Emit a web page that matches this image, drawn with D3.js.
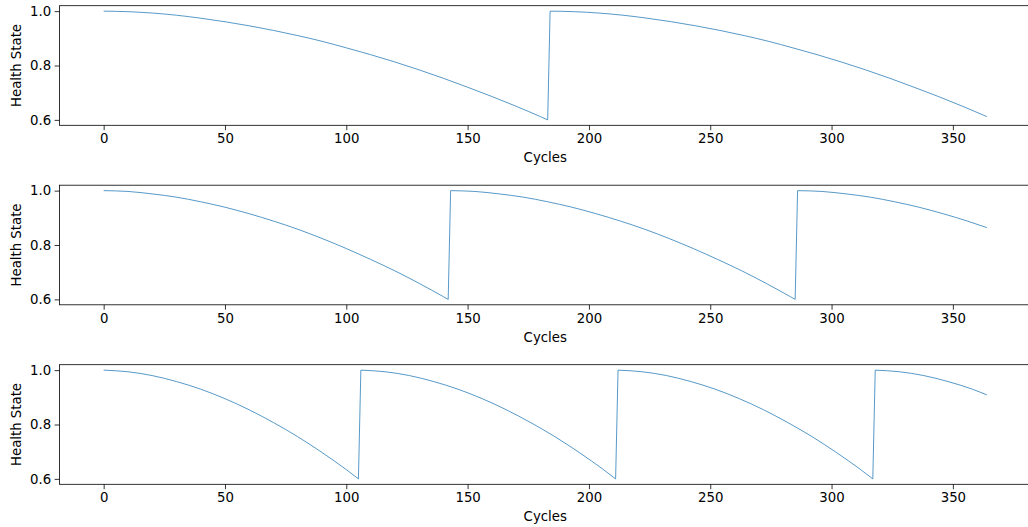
<!DOCTYPE html>
<html>
<head>
<meta charset="utf-8">
<script src="https://cdnjs.cloudflare.com/ajax/libs/d3/7.8.5/d3.min.js"></script>
<style>
  body { margin: 0; background: #fff; }
  svg { display: block; font-family: "DejaVu Sans", sans-serif; }
</style>
</head>
<body>
<script>
// health state, one pair of arrays per panel
var cycles1 = [0,10,20,30,40,50,60,70,80,90,100,110,120,130,140,150,160,170,180,183,
               184,194,204,214,224,234,244,254,264,274,284,294,304,314,324,334,344,354,364];
var health1 = [1.000,0.998,0.993,0.985,0.974,0.961,0.946,0.929,0.910,0.889,0.865,0.840,0.813,0.784,0.753,0.720,0.686,0.650,0.612,0.600,
               1.000,0.998,0.993,0.985,0.974,0.961,0.946,0.929,0.910,0.889,0.865,0.840,0.813,0.784,0.753,0.720,0.686,0.650,0.612];

var cycles2 = [0,10,20,30,40,50,60,70,80,90,100,110,120,130,140,142,
               143,153,163,173,183,193,203,213,223,233,243,253,263,273,283,285,
               286,296,306,316,326,336,346,356,364];
var health2 = [1.000,0.997,0.988,0.976,0.959,0.939,0.915,0.888,0.858,0.824,0.787,0.747,0.705,0.659,0.610,0.600,
               1.000,0.997,0.988,0.976,0.959,0.939,0.915,0.888,0.858,0.824,0.787,0.747,0.705,0.659,0.610,0.600,
               1.000,0.997,0.988,0.976,0.959,0.939,0.915,0.888,0.864];

var cycles3 = [0,10,20,30,40,50,60,70,80,90,100,105,
               106,116,126,136,146,156,166,176,186,196,206,211,
               212,222,232,242,252,262,272,282,292,302,312,317,
               318,328,338,348,358,364];
var health3 = [1.000,0.994,0.980,0.958,0.930,0.895,0.854,0.807,0.755,0.697,0.634,0.600,
               1.000,0.994,0.980,0.958,0.930,0.895,0.854,0.807,0.755,0.697,0.634,0.600,
               1.000,0.994,0.980,0.958,0.930,0.895,0.854,0.807,0.755,0.697,0.634,0.600,
               1.000,0.994,0.980,0.958,0.930,0.909];

var xTicks = [0, 50, 100, 150, 200, 250, 300, 350];
var yTicks = [0.6, 0.8, 1.0];

var panels = [[cycles1, health1], [cycles2, health2], [cycles3, health3]];

//figure setup
var W = 1028, H = 527;
var left = 59.5, right = 1031;
var tops = [5.7, 185.2, 364.7], panelH = 119.6;

var svg = d3.select('body').append('svg')
    .attr('width', W)
    .attr('height', H);

var xScale = d3.scaleLinear().domain([-18.2, 382.2]).range([left, right]);

panels.forEach(function(p, i) {
    var cyc = p[0], hs = p[1];
    var yScale = d3.scaleLinear().domain([0.58, 1.02]).range([panelH, 0]);

    var g = svg.append('g')
        .attr('transform', 'translate(0,' + tops[i] + ')');

    var pts = cyc.map(function(c, j) { return [c, hs[j]]; });

    //split into decay runs at each maintenance reset
    var runs = [[pts[0]]];
    for (var j = 1; j < pts.length; j++) {
        if (pts[j][1] > pts[j - 1][1]) runs.push([]);
        runs[runs.length - 1].push(pts[j]);
    }

    var smooth = d3.line()
        .x(function(d) { return xScale(d[0]); })
        .y(function(d) { return yScale(d[1]); })
        .curve(d3.curveMonotoneX);

    // join the runs into one path, the resets as straight jumps
    var d = runs.map(function(r, k) {
        var s = smooth(r);
        return k === 0 ? s : 'L' + s.slice(1);
    }).join('');

    g.append('path')
        .attr('fill', 'none')
        .attr('stroke', '#1f77b4')
        .attr('stroke-width', 0.75)
        .attr('stroke-linejoin', 'round')
        .attr('d', d);

    //x axis
    var xAxis = d3.axisBottom(xScale).tickValues(xTicks)
        .tickSize(4.9).tickPadding(3.5).tickSizeOuter(0);
    var gx = g.append('g')
        .attr('transform', 'translate(0,' + panelH + ')')
        .call(xAxis);

    //y axis
    var yAxis = d3.axisLeft(yScale).tickValues(yTicks)
        .tickFormat(d3.format('.1f'))
        .tickSize(4.9).tickPadding(3.5).tickSizeOuter(0);
    var gy = g.append('g')
        .attr('transform', 'translate(' + left + ',0)')
        .call(yAxis);

    [gx, gy].forEach(function(a) {
        a.select('.domain').remove();
        a.selectAll('line').attr('stroke', '#000').attr('stroke-width', 0.8);
        a.selectAll('text').attr('fill', '#000')
            .style('font-size', '13.3px')
            .style('font-family', '"DejaVu Sans", sans-serif');
    });

    //spines
    g.append('rect')
        .attr('x', left).attr('y', 0)
        .attr('width', right - left).attr('height', panelH)
        .attr('fill', 'none')
        .attr('stroke', '#000')
        .attr('stroke-width', 0.8);

    g.append('text')
        .attr('x', (left + right) / 2)
        .attr('y', panelH + 37)
        .attr('text-anchor', 'middle')
        .style('font-size', '13.3px')
        .text('Cycles');

    g.append('text')
        .attr('transform', 'translate(21,' + (panelH / 2) + ') rotate(-90)')
        .attr('text-anchor', 'middle')
        .style('font-size', '13.3px')
        .text('Health State');
});
</script>
</body>
</html>
